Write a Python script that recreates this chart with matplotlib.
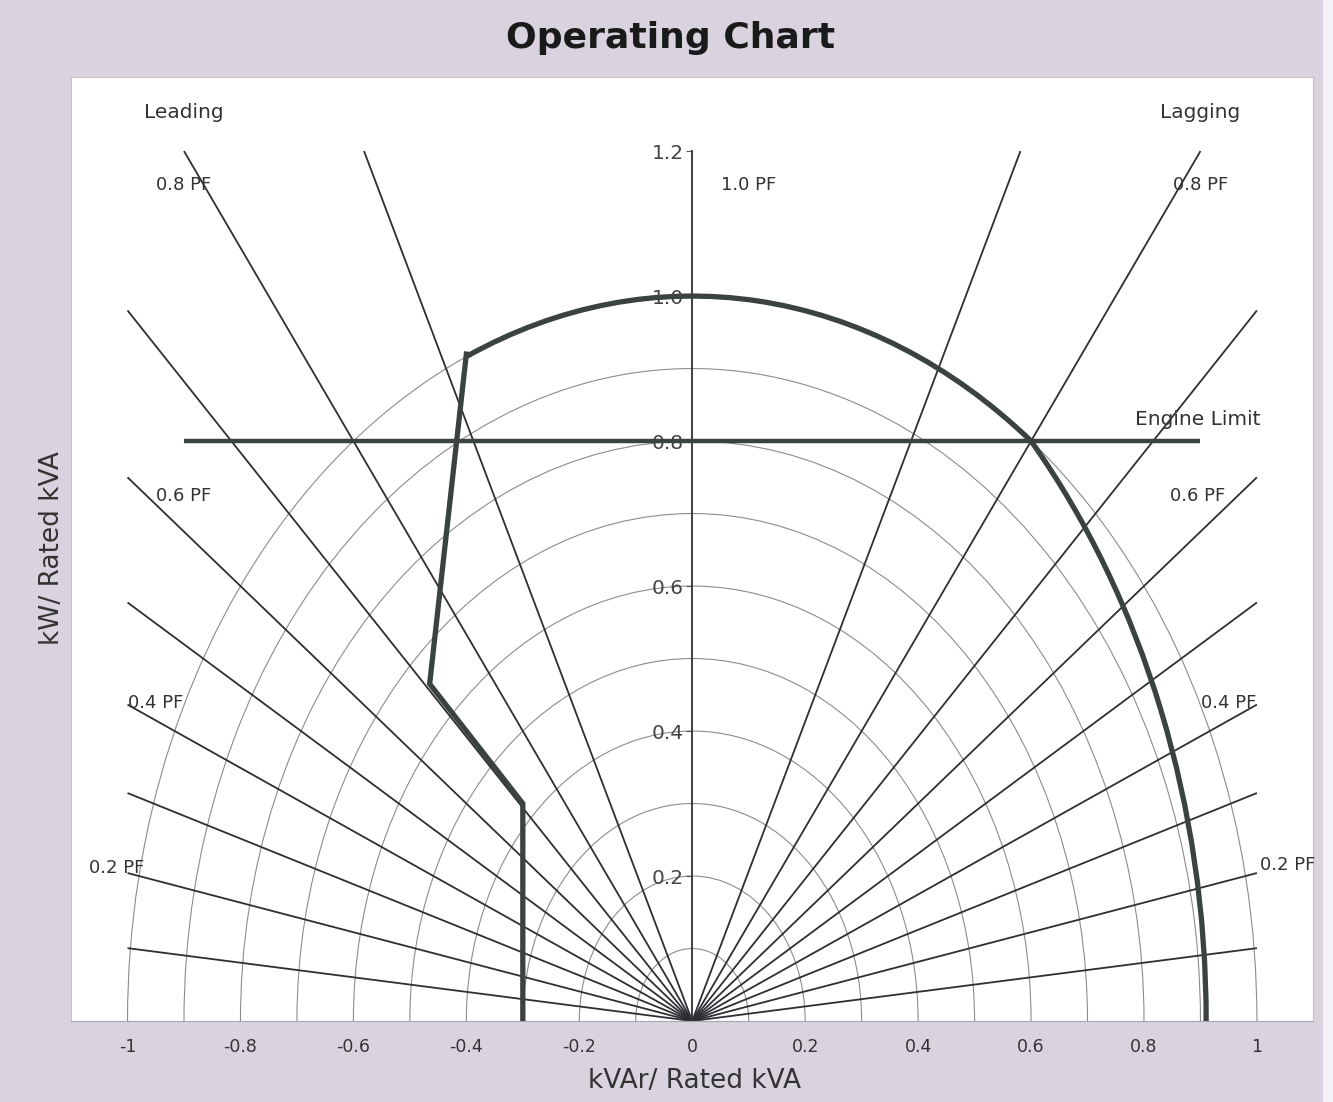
import numpy as np
import matplotlib
matplotlib.use("Agg")
import matplotlib.pyplot as plt
from matplotlib.patches import Arc, Rectangle

# Power-factor reference lines drawn on each side of the kW axis
pf_values = [0.1, 0.2, 0.3, 0.4, 0.5, 0.6, 0.7, 0.8, 0.9]
# Constant-kVA rings (per unit)
ring_radii = [0.1, 0.2, 0.3, 0.4, 0.5, 0.6, 0.7, 0.8, 0.9, 1.0]

x_ticks = [-1.0, -0.8, -0.6, -0.4, -0.2, 0.0, 0.2, 0.4, 0.6, 0.8, 1.0]
x_tick_labels = ["-1", "-0.8", "-0.6", "-0.4", "-0.2", "0", "0.2", "0.4", "0.6", "0.8", "1"]
y_ticks = [0.2, 0.4, 0.6, 0.8, 1.0, 1.2]
y_tick_labels = ["0.2", "0.4", "0.6", "0.8", "1.0", "1.2"]

# Leading-side boundary (under-excitation / stability limit)
leading_limit_kvar = [-0.30, -0.30, -0.465, -0.40]
leading_limit_kw = [0.0, 0.30, 0.465, 0.92]
# Stator (rated kVA) limit
stator_radius = 1.0
stator_end_kvar, stator_end_kw = 0.60, 0.80
# Field heating limit: circle centred on the kVAr axis
field_center_kvar = -0.277
# Prime mover limit
engine_limit_kw = 0.8
engine_limit_kvar = [-0.9, 0.9]

# PF label text
pf_labels = ["0.8 PF", "1.0 PF", "0.8 PF", "0.6 PF", "0.6 PF",
             "0.4 PF", "0.4 PF", "0.2 PF", "0.2 PF"]

LINE = "#2e2e34"
CURVE = "#3a433d"
RING = "#8c8c8c"
BG = "#d9d3df"

fig = plt.figure(figsize=(13.33, 11.02), dpi=100, facecolor=BG)
ax = fig.add_axes([0.0533, 0.0735, 0.932, 0.8565])
ax.set_facecolor("white")
ax.set_xlim(-1.1, 1.1)
ax.set_ylim(0.0, 1.302)

# kVA rings
for r in ring_radii:
    ax.add_patch(Arc((0, 0), 2 * r, 2 * r, theta1=0, theta2=180,
                     color=RING, lw=0.8, zorder=1))

# PF radial lines, clipped to the box |kVAr| <= 1, kW <= 1.2
for pf in pf_values:
    t = np.sqrt(1 - pf ** 2) / pf
    xe = min(1.0, 1.2 * t)
    ye = xe / t
    for s in (-1, 1):
        ax.plot([0, s * xe], [0, ye], color=LINE, lw=1.3, zorder=2,
                solid_capstyle="butt")
# unity PF line
ax.plot([0, 0], [0, 1.2], color=LINE, lw=1.3, zorder=2)

# Engine limit
ax.plot(engine_limit_kvar, [engine_limit_kw] * 2, color=CURVE, lw=3.2,
        zorder=4, solid_capstyle="butt")

# Operating boundary
ax.plot(leading_limit_kvar, leading_limit_kw, color=CURVE, lw=3.8, zorder=5,
        solid_joinstyle="miter")
th_start = np.degrees(np.arctan2(stator_end_kw, stator_end_kvar))
th_end = np.degrees(np.arctan2(leading_limit_kw[-1], leading_limit_kvar[-1]))
ax.add_patch(Arc((0, 0), 2 * stator_radius, 2 * stator_radius,
                 theta1=th_start, theta2=th_end, color=CURVE, lw=3.8, zorder=5))
field_radius = np.hypot(stator_end_kvar - field_center_kvar, stator_end_kw)
field_th = np.degrees(np.arctan2(stator_end_kw, stator_end_kvar - field_center_kvar))
ax.add_patch(Arc((field_center_kvar, 0), 2 * field_radius, 2 * field_radius,
                 theta1=0, theta2=field_th, color=CURVE, lw=3.8, zorder=5))

# Axes styling
for side in ("top", "right"):
    ax.spines[side].set_color("#c8c2cc")
    ax.spines[side].set_linewidth(0.8)
ax.spines["bottom"].set_color("#a9a3ae")
ax.spines["bottom"].set_linewidth(0.8)
ax.spines["left"].set_position(("data", 0))
ax.spines["left"].set_color("none")
ax.plot([0, 0], [0, 1], transform=ax.transAxes, color="#c8c2cc", lw=0.8,
        clip_on=False)

ax.set_xticks(x_ticks)
ax.set_xticklabels(x_tick_labels)
ax.set_yticks(y_ticks)
ax.set_yticklabels(y_tick_labels)
ax.tick_params(axis="x", length=0, pad=12, labelsize=12.5, labelcolor="#333333")
ax.tick_params(axis="y", direction="out", length=4, width=0.8, color="#555555",
               pad=2, labelsize=14.5, labelcolor="#444444")
for lab in ax.get_yticklabels():
    lab.set_zorder(6)

# PF and region labels
label_pos = [(-0.90, 1.153), (0.10, 1.153), (0.90, 1.153),
             (-0.90, 0.724), (0.895, 0.724),
             (-0.95, 0.439), (0.95, 0.439),
             (-1.02, 0.211), (1.055, 0.215)]
for text, (x, y) in zip(pf_labels, label_pos):
    ax.text(x, y, text, ha="center", va="center", fontsize=13,
            color="#333333", zorder=6)
ax.text(-0.90, 1.253, "Leading", ha="center", va="center", fontsize=14.5,
        color="#333333")
ax.text(0.90, 1.253, "Lagging", ha="center", va="center", fontsize=14.5,
        color="#333333")
ax.text(0.895, 0.830, "Engine Limit", ha="center", va="center", fontsize=14.5,
        color="#333333", zorder=6)

fig.text(0.503, 0.9655, "Operating Chart", ha="center", va="center",
         fontsize=26, fontweight="bold", color="#1a1a1a")
fig.text(0.521, 0.019, "kVAr/ Rated kVA", ha="center", va="center",
         fontsize=19, color="#333333")
fig.text(0.039, 0.503, "kW/ Rated kVA", ha="center", va="center",
         fontsize=19, rotation=90, color="#333333")

# pale margin along the right edge of the sheet
fig.patches.append(Rectangle((0.9925, 0), 0.0075, 1, transform=fig.transFigure,
                             facecolor="#f4f2f6", edgecolor="none", zorder=0))

fig.savefig("out.png", dpi=100, facecolor=BG)
